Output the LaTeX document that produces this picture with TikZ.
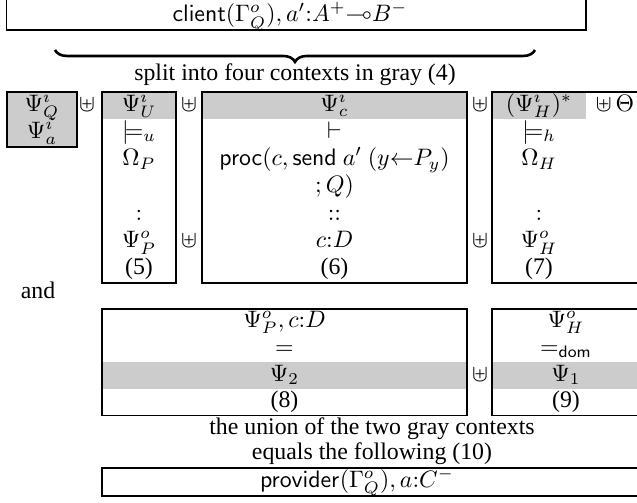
\documentclass[tikz,border=0pt]{standalone}
\usepackage[no-math]{fontspec}
\setmainfont{Liberation Serif}
\usepackage{amssymb}
\usetikzlibrary{decorations.pathreplacing}

\colorlet{ctxgray}{black!20}

\begin{document}
\begin{tikzpicture}[x=0.42pt,y=-0.42pt,
  ctxbox/.style={draw=black,line width=.5pt},
  entry/.style={anchor=base,inner sep=0pt,font=\fontsize{10}{12}\selectfont},
  uplusop/.style={entry},
  splitbrace/.style={decorate,decoration={brace,mirror,amplitude=5pt},line width=1.1pt}
]
\useasboundingbox (0,0) rectangle (637,503);
\clip (0,0) rectangle (637,503);

% what the client holds
\draw[ctxbox] (6.5,-10) rectangle (586,30);
\node[entry] (client) at (290,21.5) {$\mathsf{client}(\Gamma^o_Q), a'{:}A^+{\multimap}B^-$};
\coordinate (braceL) at (55,50);
\coordinate (braceR) at (535,50);
\draw[splitbrace] (braceL) -- (braceR);
\node[entry] (splitlbl) at (295,80) {split into four contexts in gray (4)};

% the four contexts
\draw[ctxbox,fill=ctxgray] (7,92) rectangle (77,147);
\fill[ctxgray] (102,92) rectangle (176,119.3);
\draw[ctxbox] (102,92) rectangle (176,283);
\fill[ctxgray] (202,92) rectangle (467,119.3);
\draw[ctxbox] (202,92) rectangle (467,283);
\fill[ctxgray] (492,92) rectangle (586,119.3);
\draw[ctxbox] (492,92) rectangle (700,283);

\node[entry] (psiQ) at (42,111) {$\Psi^i_Q$};
\node[entry] (psia) at (42,138.3) {$\Psi^i_a$};
\node[uplusop] (sumQU) at (87,111) {$\uplus$};

\node[entry] (psiU) at (139,111) {$\Psi^i_U$};
\node[entry] (modelsU) at (139,138.3) {$\models_u$};
\node[entry] (omegaP) at (139,165.6) {$\Omega_P$};
\node[entry] (colonU) at (139,220.2) {$:$};
\node[entry] (psiPo) at (139,247.5) {$\Psi^o_P$};
\node[entry] (numU) at (139,274.8) {(5)};
\node[uplusop] (sumUCtop) at (189,111) {$\uplus$};
\node[uplusop] (sumUCbot) at (189,247.5) {$\uplus$};

\node[entry] (psic) at (334.5,111) {$\Psi^i_c$};
\node[entry] (vdashC) at (334.5,138.3) {$\vdash$};
\node[entry] (procC) at (334.5,165.6) {$\mathsf{proc}(c, \mathsf{send}\ a'\ (y{\leftarrow}P_y)$};
\node[entry] (contC) at (334.5,192.9) {$;Q)$};
\node[entry] (typeC) at (334.5,220.2) {$::$};
\node[entry] (cD) at (334.5,247.5) {$c{:}D$};
\node[entry] (numC) at (334.5,274.8) {(6)};
\node[uplusop] (sumCHtop) at (480,111) {$\uplus$};
\node[uplusop] (sumCHbot) at (480,247.5) {$\uplus$};

\node[entry] (psiH) at (539,111) {$(\Psi^i_H)^*$};
\node[entry] (theta) at (615,111) {$\uplus\,\Theta$};
\node[entry] (modelsH) at (539,138.3) {$\models_h$};
\node[entry] (omegaH) at (539,165.6) {$\Omega_H$};
\node[entry] (colonH) at (539,220.2) {$:$};
\node[entry] (psiHo) at (539,247.5) {$\Psi^o_H$};
\node[entry] (numH) at (539,274.8) {(7)};

\node[entry] (andlbl) at (38,298) {and};

% outputs and their gray parts
\fill[ctxgray] (102,362.2) rectangle (467,388.8);
\draw[ctxbox] (102,309) rectangle (467,415.4);
\fill[ctxgray] (492,362.2) rectangle (700,388.8);
\draw[ctxbox] (492,309) rectangle (700,415.4);

\node[entry] (outP) at (284.5,327) {$\Psi^o_P, c{:}D$};
\node[entry] (eqP) at (284.5,354) {$=$};
\node[entry] (psiTwo) at (284.5,381) {$\Psi_2$};
\node[entry] (numP) at (284.5,407) {(8)};
\node[uplusop] (sumOut) at (480,381) {$\uplus$};
\node[entry] (outH) at (566,327) {$\Psi^o_H$};
\node[entry] (eqH) at (566,354) {$=_{\mathsf{dom}}$};
\node[entry] (psiOne) at (566,381) {$\Psi_1$};
\node[entry] (numH9) at (566,407) {(9)};

\node[entry] (unionlbl) at (372,434) {the union of the two gray contexts};
\node[entry] (equalslbl) at (372,459) {equals the following (10)};

\draw[ctxbox] (102,468) rectangle (700,496);
\node[entry] (provider) at (357,487) {$\mathsf{provider}(\Gamma^o_Q), a{:}C^-$};
\end{tikzpicture}
\end{document}
